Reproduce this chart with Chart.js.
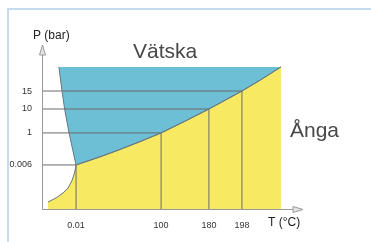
<!DOCTYPE html>
<html>
<head>
<meta charset="utf-8">
<script src="https://cdn.jsdelivr.net/npm/chart.js@4.4.1/dist/chart.umd.min.js"></script>
<style>
  html, body { margin: 0; padding: 0; background: #fff; }
  body { width: 371px; height: 242px; position: relative; overflow: hidden; }
  #frame { position: absolute; left: 7px; top: 8px; width: 400px; height: 300px;
           border-top: 2px solid #c6daf0; border-left: 2px solid #c6daf0; }
  #c { position: absolute; left: 0; top: 0; }
</style>
</head>
<body>
<div id="frame"></div>
<canvas id="c" width="371" height="242"></canvas>
<script>
// schematic phase diagram of water (axes are not to scale)
const pressureLabels = ['0.006', '1', '10', '15'];
const pressureLevels = [26.7, 46.1, 60.6, 71.5];
const tempLabels = ['0.01', '100', '180', '198'];
const tempLevels = [13.1, 45.8, 64.2, 76.9];

// boundary curves, in schematic axis units
const fusionT = [6.5, 7.7, 8.7, 10.4, 13.1];
const fusionP = [86.1, 71.5, 60.6, 46.1, 26.7];
const sublimT = [2.3, 5.4, 8.1, 10.0, 11.5, 12.5, 13.1];
const sublimP = [4.2, 6.7, 9.7, 12.7, 17.0, 21.8, 26.7];
const vaporT = [13.1, 22.3, 29.2, 37.5, 45.8, 55.0, 64.2, 70.4, 76.9, 83.8, 91.9];
const vaporP = [26.7, 31.6, 35.6, 40.7, 46.1, 53.2, 60.6, 65.9, 71.5, 78.0, 86.1];
const topP = 86.1;

const pts = (xs, ys) => xs.map((x, i) => ({ x: x, y: ys[i] }));

const blueEdge = pts(fusionT, fusionP).concat(pts(vaporT, vaporP).slice(1));
const yellowEdge = pts(sublimT, sublimP).concat(pts(vaporT, vaporP).slice(1));

const lineColor = '#66767e';
const refColor = '#6b6b6b';

const datasets = [
    {
        data: yellowEdge,
        borderColor: lineColor,
        borderWidth: 1,
        backgroundColor: 'rgb(248,233,99)',
        fill: 'origin'
    },
    {
        data: blueEdge,
        borderColor: lineColor,
        borderWidth: 1,
        backgroundColor: 'rgb(108,191,213)',
        fill: { value: topP }
    }
];

// reference lines from the axes to the curve
pressureLevels.forEach((p, i) => {
    datasets.push({ data: [{ x: 0, y: p }, { x: tempLevels[i], y: p }], borderColor: refColor, borderWidth: 1, fill: false });
    datasets.push({ data: [{ x: tempLevels[i], y: 0 }, { x: tempLevels[i], y: p }], borderColor: refColor, borderWidth: 1, fill: false });
});

const decor = {
    id: 'decor',
    afterDraw(chart) {
        const ctx = chart.ctx;
        const xs = chart.scales.x, ys = chart.scales.y;
        const ox = Math.round(xs.getPixelForValue(0)) + 0.5;
        const oy = Math.round(ys.getPixelForValue(0)) + 0.5;
        const yTip = ys.getPixelForValue(100) + 1;
        const xTip = xs.getPixelForValue(100) + 1;
        ctx.save();
        ctx.strokeStyle = '#9a9a9a';
        ctx.lineWidth = 1;
        ctx.beginPath();
        ctx.moveTo(ox, oy); ctx.lineTo(ox, yTip + 8);
        ctx.moveTo(ox, oy); ctx.lineTo(xTip - 9, oy);
        ctx.stroke();
        ctx.fillStyle = '#e4e4e4';
        ctx.beginPath();
        ctx.moveTo(ox, yTip); ctx.lineTo(ox - 3, yTip + 10); ctx.lineTo(ox + 3, yTip + 10); ctx.closePath();
        ctx.fill(); ctx.stroke();
        ctx.beginPath();
        ctx.moveTo(xTip, oy); ctx.lineTo(xTip - 10, oy - 3); ctx.lineTo(xTip - 10, oy + 3); ctx.closePath();
        ctx.fill(); ctx.stroke();

        ctx.textBaseline = 'alphabetic';
        ctx.textAlign = 'left';
        ctx.fillStyle = '#484848';
        ctx.font = '21px "Liberation Sans", Arial, sans-serif';
        ctx.fillText('Vätska', 133, 58);
        ctx.fillText('Ånga', 290, 137);
        ctx.fillStyle = '#222';
        ctx.font = '12px "Liberation Sans", Arial, sans-serif';
        ctx.fillText('P (bar)', 33, 39);
        ctx.fillText('T (°C)', 268, 226);
        ctx.restore();
    }
};

new Chart(document.getElementById('c'), {
    type: 'line',
    data: { datasets: datasets },
    options: {
        responsive: false,
        animation: false,
        layout: { padding: { left: 0, top: 44, right: 69, bottom: 0 } },
        elements: { point: { radius: 0 }, line: { tension: 0 } },
        plugins: {
            legend: { display: false },
            tooltip: { enabled: false },
            filler: { drawTime: 'beforeDatasetsDraw' }
        },
        scales: {
            x: {
                type: 'linear',
                min: 0,
                max: 100,
                grid: { display: false },
                border: { display: false },
                afterBuildTicks: s => { s.ticks = tempLevels.map(v => ({ value: v })); },
                afterFit: s => { s.height = 33; },
                ticks: {
                    autoSkip: false,
                    maxRotation: 0,
                    padding: 3,
                    color: '#333',
                    font: { family: '"Liberation Sans", Arial, sans-serif', size: 9 },
                    callback: (v, i) => tempLabels[i]
                }
            },
            y: {
                type: 'linear',
                min: 0,
                max: 100,
                grid: { display: false },
                border: { display: false },
                afterBuildTicks: s => { s.ticks = pressureLevels.map(v => ({ value: v })); },
                afterFit: s => { s.width = 42; },
                ticks: {
                    autoSkip: false,
                    padding: 2,
                    color: '#333',
                    font: { family: '"Liberation Sans", Arial, sans-serif', size: 9 },
                    callback: (v, i) => pressureLabels[i]
                }
            }
        }
    },
    plugins: [decor]
});
</script>
</body>
</html>
